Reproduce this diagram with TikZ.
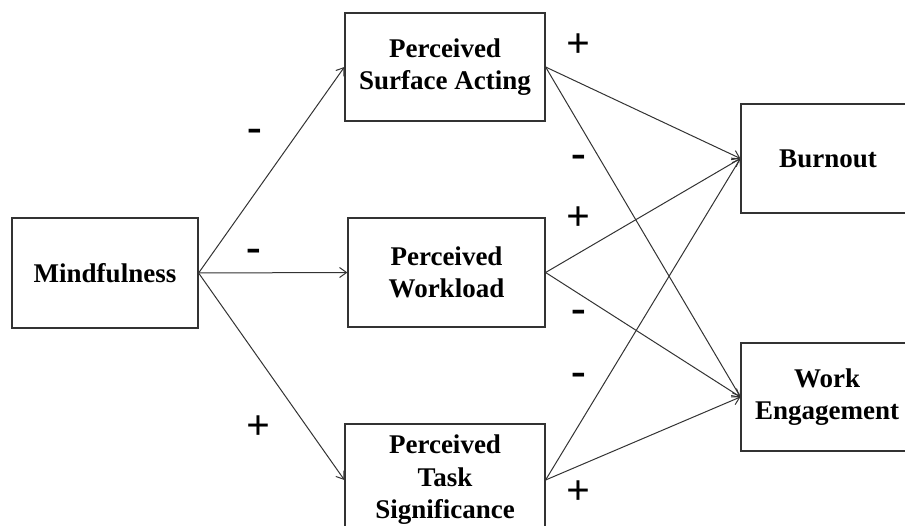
\documentclass[tikz,border=0pt]{standalone}
\usepackage{fontspec}
\setmainfont{Liberation Serif}
\usetikzlibrary{arrows.meta}
\begin{document}
\begin{tikzpicture}[x=1pt,y=-1pt,
  box/.style={draw=black!80, line width=1.2pt, inner sep=0pt, align=center,
    font=\fontsize{27}{32.5}\selectfont\bfseries},
  link/.style={draw=black!80, line width=1pt, -{Straight Barb[length=7pt,width=10pt,line width=1pt]}},
  plus/.style={font=\fontsize{42}{42}\selectfont\bfseries, inner sep=0pt},
  minus/.style={font=\fontsize{44}{44}\selectfont\bfseries, inner sep=0pt}]
\useasboundingbox (0,0) rectangle (905,526);
\clip (0,0) rectangle (905,526);
\node[box, minimum width=186pt, minimum height=110pt] (mind) at (105,273) {Mindfulness};
\node[box, minimum width=200pt, minimum height=108pt] (sa) at (445,67) {Perceived\\Surface Acting};
\node[box, minimum width=197pt, minimum height=109pt] (wl) at (446.5,272.5) {Perceived\\Workload};
\node[box, minimum width=200pt, minimum height=112pt] (ts) at (445,480) {Perceived\\Task\\Significance};
\node[box, minimum width=174pt, minimum height=109pt] (bo) at (828,158.5) {Burnout};
\node[box, minimum width=172pt, minimum height=108pt] (we) at (827,397) {Work\\Engagement};
\draw[link] (mind.east) -- (sa.west);
\draw[link] (mind.east) -- (wl.west);
\draw[link] (mind.east) -- (ts.west);
\draw[link] (sa.east) -- (bo.west);
\draw[link] (sa.east) -- (we.west);
\draw[link] (wl.east) -- (bo.west);
\draw[link] (wl.east) -- (we.west);
\draw[link] (ts.east) -- (bo.west);
\draw[link] (ts.east) -- (we.west);
\node[minus] (m1) at (255,135) {-};
\node[minus] (m2) at (254,255) {-};
\node[plus] (p1) at (258,428) {+};
\node[plus] (p2) at (578,46) {+};
\node[minus] (m3) at (579,161) {-};
\node[plus] (p3) at (578,219) {+};
\node[minus] (m4) at (579,316) {-};
\node[minus] (m5) at (579,379) {-};
\node[plus] (p4) at (578,493) {+};
\end{tikzpicture}
\end{document}
